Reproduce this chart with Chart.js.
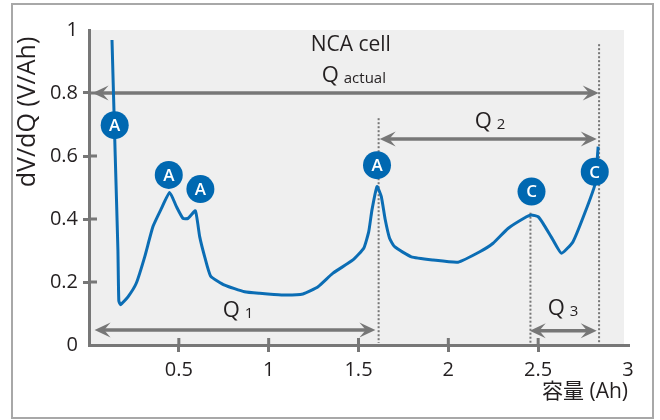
<!DOCTYPE html>
<html>
<head>
<meta charset="utf-8">
<script src="https://cdn.jsdelivr.net/npm/chart.js@4.4.1/dist/chart.umd.min.js"></script>
<style>
html, body { margin: 0; padding: 0; background: #fff; }
</style>
</head>
<body>
<canvas id="dvdq-chart" width="660" height="420"></canvas>
<script>
// ─── DATA ─────────────────────────────────────────
const capacity = [0.128, 0.146, 0.161, 0.166, 0.176, 0.217, 0.263, 0.31, 0.356, 0.40, 0.449, 0.486,
    0.523, 0.551, 0.592, 0.616, 0.644, 0.677, 0.755, 0.866, 0.95, 1.071, 1.191, 1.275, 1.358,
    1.469, 1.529, 1.557, 1.575, 1.603, 1.627, 1.648, 1.673, 1.701, 1.794, 1.915, 2.054, 2.175,
    2.249, 2.332, 2.435, 2.463, 2.50, 2.527, 2.583, 2.63, 2.694, 2.759, 2.815, 2.834];
const dvdq = [0.968, 0.60, 0.30, 0.14, 0.128, 0.153, 0.196, 0.28, 0.376, 0.43, 0.484, 0.44,
    0.402, 0.402, 0.426, 0.344, 0.28, 0.219, 0.19, 0.169, 0.164, 0.159, 0.162, 0.185, 0.228,
    0.27, 0.307, 0.36, 0.429, 0.503, 0.471, 0.40, 0.339, 0.312, 0.28, 0.27, 0.263, 0.296,
    0.323, 0.37, 0.407, 0.413, 0.407, 0.386, 0.333, 0.291, 0.328, 0.418, 0.508, 0.63];

const peakX = [0.143, 0.444, 0.62, 1.603, 2.463, 2.815];
const peakY = [0.698, 0.54, 0.495, 0.571, 0.487, 0.55];
const peakLetters = ['A', 'A', 'A', 'A', 'C', 'C'];

const xTickValues = [0.5, 1, 1.5, 2, 2.5, 3];
const yTickValues = [0, 0.2, 0.4, 0.6, 0.8, 1];

// capacity spans (double arrows) and their labels
const spanSubs = ['actual', '2', '1', '3'];
const spanFrom = [0.02, 1.618, 0.031, 2.453];
const spanTo = [2.837, 2.826, 1.594, 2.826];
const spanY = [0.8, 0.654, 0.048, 0.045];
const spanLabelX = [1.295, 2.147, 0.744, 2.553];
const spanLabelY = [0.835, 0.689, 0.089, 0.095];

// dotted guide lines
const guideX = [1.612, 2.457, 2.839];
const guideTop = [0.72, 0.42, 0.955];

const FONT = "'Open Sans', 'Noto Sans CJK JP', sans-serif";
const INK = '#231f20';
const AXIS = '#777777';

function arrowHead(c, x, y, dir) {
    // dir = 1 points right, -1 points left
    const L = 16, W = 7.5;
    c.beginPath();
    c.moveTo(x, y);
    c.lineTo(x - dir * L, y - W);
    c.lineTo(x - dir * L * 0.6, y);
    c.lineTo(x - dir * L, y + W);
    c.closePath();
    c.fill();
}

// ─── DECORATION PLUGIN ────────────────────────────
const decor = {
    id: 'decor',
    beforeDraw(chart) {
        const c = chart.ctx, a = chart.chartArea, sx = chart.scales.x;
        c.save();
        c.fillStyle = '#fff';
        c.fillRect(0, 0, chart.width, chart.height);
        c.strokeStyle = '#a8a8a8';
        c.lineWidth = 2;
        c.strokeRect(12, 4, 641, 414);
        c.fillStyle = '#efefef';
        c.fillRect(a.left, a.top, sx.getPixelForValue(2.978) - a.left, a.bottom - a.top);
        c.restore();
    },
    beforeDatasetsDraw(chart) {
        const c = chart.ctx, sx = chart.scales.x, sy = chart.scales.y, a = chart.chartArea;
        const px = v => sx.getPixelForValue(v), py = v => sy.getPixelForValue(v);
        c.save();

        // inner halves of tick marks
        c.strokeStyle = AXIS;
        c.lineWidth = 3;
        c.beginPath();
        yTickValues.filter(v => v > 0 && v < 1).forEach(v => {
            c.moveTo(a.left, py(v)); c.lineTo(a.left + 8, py(v));
        });
        xTickValues.filter(v => v < 3).forEach(v => {
            c.moveTo(px(v), a.bottom); c.lineTo(px(v), a.bottom - 7);
        });
        c.stroke();

        // dotted guides
        c.strokeStyle = AXIS;
        c.lineWidth = 2;
        c.setLineDash([2, 2]);
        guideX.forEach((x, i) => {
            c.beginPath();
            c.moveTo(px(x), py(guideTop[i]));
            c.lineTo(px(x), a.bottom - 2);
            c.stroke();
        });
        c.setLineDash([]);

        // span arrows
        c.strokeStyle = AXIS;
        c.fillStyle = AXIS;
        c.lineWidth = 3.5;
        spanY.forEach((y, i) => {
            const x1 = px(spanFrom[i]), x2 = px(spanTo[i]), yy = py(y);
            c.beginPath();
            c.moveTo(x1 + 8, yy); c.lineTo(x2 - 8, yy);
            c.stroke();
            arrowHead(c, x1, yy, -1);
            arrowHead(c, x2, yy, 1);
        });

        // span labels: Q + subscript
        c.fillStyle = INK;
        c.textBaseline = 'alphabetic';
        c.textAlign = 'left';
        spanSubs.forEach((sub, i) => {
            const x = px(spanLabelX[i]), y = py(spanLabelY[i]);
            c.font = '22px ' + FONT;
            c.fillText('Q', x, y);
            const w = c.measureText('Q').width;
            c.font = '15px ' + FONT;
            c.fillText(sub, x + w + 5, y + 1);
        });

        // title
        c.font = '21px ' + FONT;
        c.textAlign = 'center';
        c.textBaseline = 'middle';
        c.fillText('NCA cell', px(1.457), py(0.952));

        // axis titles
        c.font = '21px ' + FONT;
        c.textAlign = 'right';
        c.fillText('容量 (Ah)', 628, 392);
        c.translate(28, 112);
        c.rotate(-Math.PI / 2);
        c.textAlign = 'center';
        c.font = '25px ' + FONT;
        c.fillText('dV/dQ (V/Ah)', 0, 0);
        c.restore();
    },
    afterDatasetsDraw(chart) {
        const c = chart.ctx;
        c.save();
        c.fillStyle = '#fff';
        c.font = '600 17px ' + FONT;
        c.textAlign = 'center';
        c.textBaseline = 'middle';
        chart.getDatasetMeta(1).data.forEach((pt, i) => {
            c.fillText(peakLetters[i], pt.x, pt.y + 1);
        });
        c.restore();
    }
};

// ─── CHART ────────────────────────────────────────
new Chart(document.getElementById('dvdq-chart'), {
    type: 'scatter',
    data: {
        datasets: [{
            label: 'dV/dQ',
            data: capacity.map((x, i) => ({ x: x, y: dvdq[i] })),
            showLine: true,
            borderColor: '#0b6db4',
            borderWidth: 3,
            pointRadius: 0,
            tension: 0.15,
            order: 1
        }, {
            label: 'peaks',
            data: peakX.map((x, i) => ({ x: x, y: peakY[i] })),
            backgroundColor: '#0068b1',
            borderWidth: 0,
            pointRadius: 14,
            order: 0
        }]
    },
    options: {
        responsive: false,
        animation: false,
        events: [],
        layout: { padding: { top: 30, right: 32, left: 0, bottom: 0 } },
        plugins: {
            legend: { display: false },
            tooltip: { enabled: false }
        },
        scales: {
            x: {
                type: 'linear',
                min: 0, max: 3,
                afterFit: s => { s.height = 75; },
                afterBuildTicks: s => { s.ticks = xTickValues.map(v => ({ value: v })); },
                border: { color: AXIS, width: 3 },
                grid: {
                    drawOnChartArea: false,
                    tickLength: 7,
                    lineWidth: 3,
                    color: c => (c.tick && c.tick.value < 3) ? AXIS : 'rgba(0,0,0,0)'
                },
                ticks: {
                    padding: 6,
                    color: INK,
                    font: { family: FONT, size: 20 },
                    maxRotation: 0,
                    callback: v => String(v)
                }
            },
            y: {
                min: 0, max: 1,
                afterFit: s => { s.width = 89; },
                afterBuildTicks: s => { s.ticks = yTickValues.map(v => ({ value: v })); },
                border: { color: AXIS, width: 3 },
                grid: {
                    drawOnChartArea: false,
                    tickLength: 6,
                    lineWidth: 3,
                    color: c => (c.tick && c.tick.value > 0 && c.tick.value < 1) ? AXIS : 'rgba(0,0,0,0)'
                },
                ticks: {
                    padding: 5,
                    color: INK,
                    font: { family: FONT, size: 20 },
                    callback: v => String(v)
                }
            }
        }
    },
    plugins: [decor]
});
</script>
</body>
</html>
